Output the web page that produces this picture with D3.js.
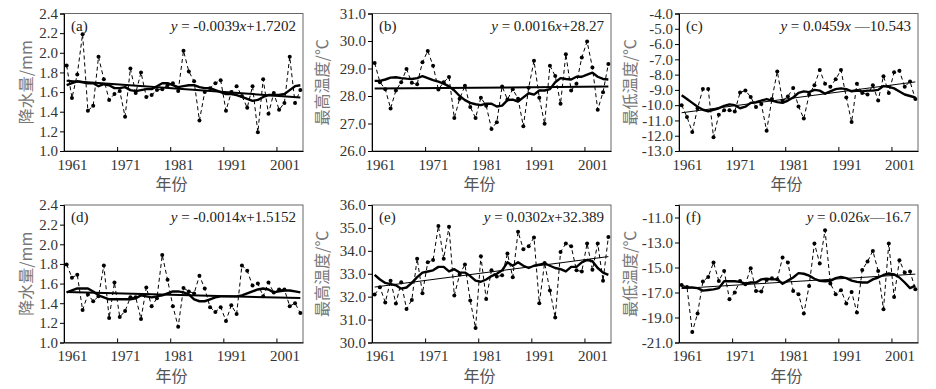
<!DOCTYPE html>
<html lang="zh">
<head>
<meta charset="utf-8">
<title>降水与气温变化</title>
<style>
  body { margin: 0; background: #fff; }
  .axis path, .axis line { stroke: #000; }
</style>
</head>
<body>
<svg id="chart" width="936" height="389"></svg>
<script src="https://d3js.org/d3.v7.min.js"></script>
<script>
// years 1961-2005
var years = d3.range(1961, 2006);
var xTickYears = [1961, 1971, 1981, 1991, 2001];

// (a) 降水量
var precipA = [1.87,1.54,1.78,2.19,1.41,1.46,1.96,1.73,1.52,1.58,
               1.61,1.35,1.84,1.59,1.80,1.55,1.57,1.62,1.63,1.67,
               1.69,1.61,2.02,1.81,1.71,1.31,1.60,1.64,1.69,1.72,
               1.41,1.60,1.66,1.56,1.44,1.66,1.19,1.73,1.38,1.59,
               1.42,1.49,1.96,1.49,1.62];
var smoothA = [1.67,1.69,1.71,1.70,1.69,1.69,1.66,1.68,1.67,1.64,
               1.64,1.65,1.62,1.61,1.62,1.63,1.63,1.66,1.69,1.69,
               1.67,1.65,1.66,1.67,1.67,1.65,1.64,1.64,1.62,1.60,
               1.58,1.58,1.57,1.55,1.53,1.51,1.52,1.55,1.57,1.57,
               1.57,1.58,1.62,1.66,1.67];

// (b) 最高温度
var tmaxB = [29.2,28.5,28.25,27.55,28.2,28.5,28.98,28.48,28.43,29.23,
             29.64,29.1,28.24,28.5,28.69,27.2,27.9,28.37,27.6,27.2,
             27.94,27.65,26.8,27.05,28.35,27.87,28.25,27.9,26.9,28.3,
             29.28,27.94,26.99,29.1,28.73,27.72,29.52,28.2,28.45,29.4,
             29.98,29.04,27.5,28.14,29.16];
var smoothB = [28.55,28.55,28.6,28.67,28.68,28.65,28.63,28.62,28.65,28.72,
               28.65,28.58,28.52,28.45,28.35,28.2,28.0,27.85,27.75,27.7,
               27.67,27.72,27.72,27.62,27.65,27.85,27.87,27.8,27.95,28.1,
               28.05,28.2,28.2,28.25,28.5,28.65,28.62,28.6,28.7,28.7,
               28.78,28.85,28.7,28.62,28.6];

// (c) 最低温度
var tminC = [-10.0,-10.77,-11.75,-10.2,-8.94,-8.94,-12.1,-10.62,-10.34,-10.34,
             -10.41,-9.17,-9.04,-9.47,-10.12,-9.93,-11.67,-9.6,-7.8,-9.7,
             -9.43,-8.88,-10.08,-10.88,-9.3,-8.7,-7.7,-8.6,-8.8,-8.3,
             -7.7,-9.5,-11.1,-8.6,-9.2,-9.3,-8.7,-9.7,-8.1,-9.2,
             -7.85,-7.75,-8.8,-8.45,-9.6];
var smoothC = [-9.35,-9.6,-9.85,-10.1,-10.3,-10.4,-10.3,-10.2,-10.05,-9.95,
               -10.0,-10.2,-10.1,-9.85,-9.8,-9.7,-9.6,-9.7,-9.8,-9.85,
               -9.7,-9.5,-9.2,-9.1,-9.15,-9.0,-9.05,-9.25,-9.1,-8.95,
               -8.9,-8.95,-9.1,-9.05,-9.1,-9.05,-9.05,-9.0,-8.75,-8.8,
               -8.9,-9.1,-9.3,-9.4,-9.5];

// (d) 降水量
var precipD = [1.795,1.66,1.69,1.33,1.49,1.42,1.47,1.785,1.25,1.61,
               1.26,1.32,1.46,1.46,1.24,1.56,1.37,1.45,1.89,1.64,
               1.37,1.16,1.555,1.52,1.50,1.68,1.55,1.36,1.31,1.36,
               1.22,1.38,1.29,1.785,1.73,1.58,1.60,1.47,1.61,1.51,
               1.54,1.54,1.37,1.40,1.30];
var smoothD = [1.51,1.53,1.55,1.55,1.55,1.52,1.48,1.46,1.44,1.44,
               1.44,1.44,1.44,1.45,1.48,1.47,1.46,1.47,1.48,1.50,
               1.52,1.52,1.51,1.49,1.44,1.42,1.42,1.44,1.46,1.47,
               1.47,1.47,1.47,1.48,1.50,1.52,1.54,1.55,1.54,1.51,
               1.52,1.53,1.53,1.52,1.51];

// (e) 最高温度
var tmaxE = [32.09,32.41,31.75,32.7,31.7,32.63,31.46,31.86,33.66,32.15,
             33.5,33.6,35.08,33.66,35.05,32.05,32.97,33.4,31.83,30.63,
             33.76,31.9,33.15,32.88,32.93,33.88,32.85,34.83,34.07,34.2,
             34.58,31.71,33.47,32.27,31.09,33.95,34.32,34.2,33.15,33.1,
             34.32,33.17,34.32,32.7,34.6];
var smoothE = [32.95,32.75,32.6,32.55,32.5,32.35,32.4,32.6,32.85,33.05,
               33.1,33.15,33.3,33.3,33.1,33.2,33.05,33.05,32.9,32.7,
               32.65,32.75,32.9,33.0,33.15,33.5,33.35,33.5,33.35,33.25,
               33.35,33.4,33.45,33.35,33.25,33.2,33.1,33.3,33.3,33.5,
               33.6,33.55,33.25,33.05,32.95];

// (f) 最低温度
var tminF = [-16.4,-16.55,-20.15,-18.68,-16.12,-15.75,-14.6,-16.07,-15.27,-17.53,
             -17.0,-16.07,-16.33,-15.05,-16.87,-16.92,-16.0,-15.85,-15.93,-14.2,
             -14.6,-16.87,-17.13,-18.68,-16.47,-13.08,-14.68,-12.01,-16.28,-17.13,
             -16.81,-17.88,-16.95,-18.6,-15.19,-14.52,-13.67,-15.27,-18.33,-13.08,
             -17.35,-14.41,-15.4,-15.32,-16.73];
var smoothF = [-16.6,-16.6,-16.6,-16.65,-16.85,-16.8,-16.75,-16.65,-16.1,-16.1,
               -16.1,-16.15,-16.3,-16.2,-16.2,-15.95,-15.9,-15.95,-15.95,-16.3,
               -16.05,-15.8,-15.45,-15.5,-15.65,-15.9,-16.07,-16.1,-16.07,-15.85,
               -15.75,-15.85,-16.05,-16.15,-16.2,-16.2,-15.95,-15.8,-15.6,-15.48,
               -15.55,-15.8,-16.2,-16.65,-16.45];

// 线性趋势 y = slope * n + intercept (n = 1..45)
var trendSlope = [-0.0039, 0.0016, 0.0459, -0.0014, 0.0302, 0.026];
var trendIntercept = [1.7202, 28.27, -10.543, 1.5152, 32.389, -16.7];
var eqLabels = ["y = -0.0039x+1.7202", "y = 0.0016x+28.27", "y = 0.0459x \u201410.543",
                "y = -0.0014x+1.5152", "y = 0.0302x+32.389", "y = 0.026x\u201416.7"];

var panelNames = ["(a)", "(b)", "(c)", "(d)", "(e)", "(f)"];
var yTitles = ["降水量/mm", "最高温度/℃", "最低温度/℃", "降水量/mm", "最高温度/℃", "最低温度/℃"];
var yDomains = [[1.0, 2.4], [26, 31], [-13, -4], [1.0, 2.4], [30, 36], [-21, -10]];
var yTicks = [
  [1.0,1.2,1.4,1.6,1.8,2.0,2.2,2.4],
  [26,27,28,29,30,31],
  [-13,-12,-11,-10,-9,-8,-7,-6,-5,-4],
  [1.0,1.2,1.4,1.6,1.8,2.0,2.2,2.4],
  [30,31,32,33,34,35,36],
  [-21,-19,-17,-15,-13,-11]
];
var seriesValues = [precipA, tmaxB, tminC, precipD, tmaxE, tminF];
var smoothValues = [smoothA, smoothB, smoothC, smoothD, smoothE, smoothF];

var SERIF = '"Liberation Serif", "Times New Roman", "DejaVu Serif", serif';
var CJK = '"Noto Sans CJK SC", "Noto Sans CJK JP", sans-serif';

// 布局
var svg = d3.select('#chart');
var lefts = [64, 372, 679],
    tops = [13.5, 205],
    pw = 239, ph = 137.5,
    titleOffset = [38, 50, 49],
    trendWidth = [2, 2, 1, 2, 1, 1];

seriesValues.forEach(function(vals, i) {
  var col = i % 3, row = Math.floor(i / 3);
  var left = lefts[col], top = tops[row];
  var g = svg.append('g');

  var x = d3.scaleLinear().domain([1961, 2006]).range([left, left + pw]);
  var y = d3.scaleLinear().domain(yDomains[i]).range([top + ph, top]);

  // 边框
  g.append('rect')
    .attr('x', left).attr('y', top)
    .attr('width', pw).attr('height', ph)
    .attr('fill', 'none').attr('stroke', '#666').attr('stroke-width', 1);

  // 坐标轴
  var yAxis = d3.axisLeft(y).tickValues(yTicks[i])
    .tickFormat(function(d) { return d.toFixed(1); })
    .tickSize(4).tickPadding(2);
  g.append('g').attr('class', 'axis')
    .attr('transform', 'translate(' + left + ',0)')
    .call(yAxis)
    .attr('font-family', SERIF).attr('font-size', 15)
    .selectAll('text').attr('fill', '#333');

  var xAxis = d3.axisBottom(x).tickValues(xTickYears)
    .tickFormat(d3.format('d'))
    .tickSizeInner(-4).tickSizeOuter(0).tickPadding(8);
  g.append('g').attr('class', 'axis')
    .attr('transform', 'translate(0,' + (top + ph) + ')')
    .call(xAxis)
    .attr('font-family', SERIF).attr('font-size', 15)
    .selectAll('text').attr('dx', 8).attr('fill', '#333');

  // 趋势线
  var n0 = 1, n1 = years.length;
  g.append('line')
    .attr('x1', x(years[0] + 0.5)).attr('y1', y(trendSlope[i] * n0 + trendIntercept[i]))
    .attr('x2', x(years[n1 - 1] + 0.5)).attr('y2', y(trendSlope[i] * n1 + trendIntercept[i]))
    .attr('stroke', '#000').attr('stroke-width', trendWidth[i]);

  // 原始序列 (虚线 + 点)
  var line = d3.line()
    .x(function(d, k) { return x(years[k] + 0.5); })
    .y(function(d) { return y(d); });
  g.append('path').datum(vals)
    .attr('d', line)
    .attr('fill', 'none').attr('stroke', '#000')
    .attr('stroke-width', 1).attr('stroke-dasharray', '4,3');
  g.selectAll('.dot').data(vals).enter().append('circle')
    .attr('cx', function(d, k) { return x(years[k] + 0.5); })
    .attr('cy', function(d) { return y(d); })
    .attr('r', 2).attr('fill', '#000');

  // 滑动平均
  g.append('path').datum(smoothValues[i])
    .attr('d', line)
    .attr('fill', 'none').attr('stroke', '#000')
    .attr('stroke-width', 2.4).attr('stroke-linejoin', 'round');

  // 文字
  g.append('text')
    .attr('x', left + 7).attr('y', top + 17)
    .attr('font-family', SERIF).attr('font-size', 15).attr('fill', '#222')
    .text(panelNames[i]);

  var eq = g.append('text')
    .attr('x', left + pw - 7).attr('y', top + 17)
    .attr('text-anchor', 'end')
    .attr('font-family', SERIF).attr('font-size', 15).attr('fill', '#222');
  eqLabels[i].split(/([xy])/).forEach(function(part) {
    if (!part) return;
    eq.append('tspan')
      .attr('font-style', (part === 'x' || part === 'y') ? 'italic' : 'normal')
      .text(part);
  });

  g.append('text')
    .attr('transform', 'translate(' + (left - titleOffset[col]) + ',' + (top + ph / 2) + ') rotate(-90)')
    .attr('text-anchor', 'middle').attr('dy', '0.35em')
    .attr('font-family', CJK).attr('font-size', 16).attr('fill', '#777')
    .text(yTitles[i]);

  g.append('text')
    .attr('x', left + pw / 2 - 12).attr('y', top + ph + 39)
    .attr('text-anchor', 'middle')
    .attr('font-family', CJK).attr('font-size', 16).attr('fill', '#555')
    .text('年份');
});
</script>
</body>
</html>
